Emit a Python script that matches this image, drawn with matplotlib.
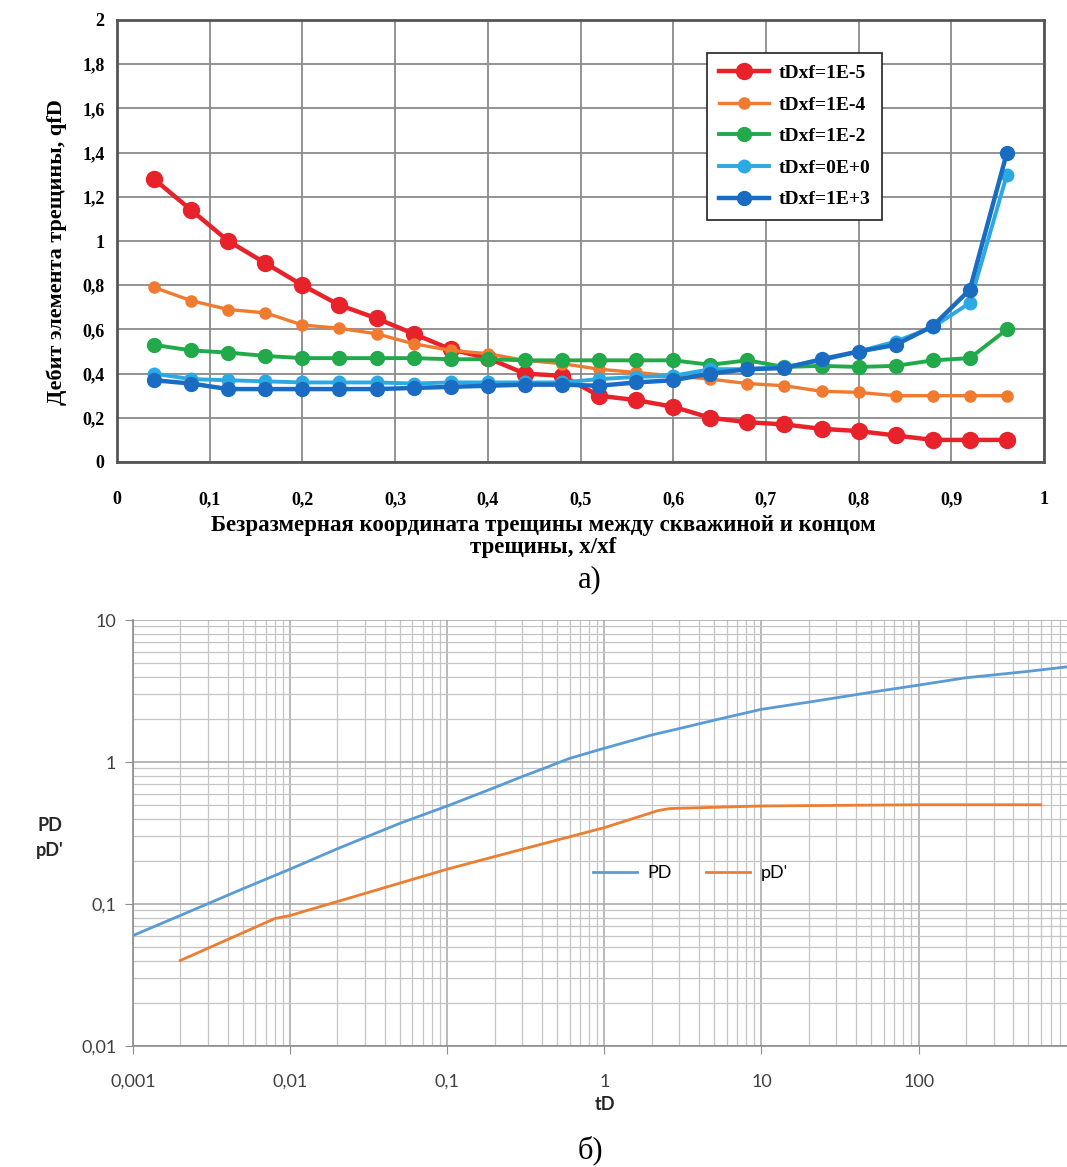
import numpy as np
import matplotlib
matplotlib.use("Agg")
import matplotlib.pyplot as plt
from matplotlib.ticker import FuncFormatter, FixedLocator, LogLocator, NullFormatter

# --- chart a): fracture element rate along the fracture ---
x_pos = [0.04, 0.08, 0.12, 0.16, 0.20, 0.24, 0.28, 0.32, 0.36, 0.40, 0.44, 0.48,
         0.52, 0.56, 0.60, 0.64, 0.68, 0.72, 0.76, 0.80, 0.84, 0.88, 0.92, 0.96]
q_1e5 = [1.28, 1.14, 1.00, 0.90, 0.80, 0.71, 0.65, 0.58, 0.51, 0.47, 0.40, 0.39,
         0.30, 0.28, 0.25, 0.20, 0.18, 0.17, 0.15, 0.14, 0.12, 0.10, 0.10, 0.10]
q_1e4 = [0.79, 0.73, 0.69, 0.675, 0.62, 0.605, 0.58, 0.535, 0.505, 0.49, 0.46, 0.445,
         0.42, 0.405, 0.39, 0.375, 0.355, 0.345, 0.32, 0.315, 0.30, 0.30, 0.30, 0.30]
q_1e2 = [0.53, 0.505, 0.495, 0.48, 0.47, 0.47, 0.47, 0.47, 0.465, 0.465, 0.46, 0.46,
         0.46, 0.46, 0.46, 0.44, 0.46, 0.43, 0.435, 0.43, 0.435, 0.46, 0.47, 0.60]
q_0e0 = [0.40, 0.375, 0.37, 0.365, 0.36, 0.36, 0.36, 0.355, 0.36, 0.36, 0.36, 0.36,
         0.375, 0.385, 0.39, 0.42, 0.42, 0.43, 0.46, 0.50, 0.545, 0.61, 0.72, 1.30]
q_1e3 = [0.37, 0.355, 0.33, 0.33, 0.33, 0.33, 0.33, 0.335, 0.34, 0.345, 0.35, 0.35,
         0.345, 0.36, 0.37, 0.40, 0.42, 0.425, 0.465, 0.50, 0.53, 0.615, 0.78, 1.40]
series_labels = ["tDxf=1E-5", "tDxf=1E-4", "tDxf=1E-2", "tDxf=0E+0", "tDxf=1E+3"]
series_colors = ["#e8222b", "#f07a30", "#22a94a", "#2aa9e2", "#1a6cc2"]

# --- chart б): PD and derivative vs tD ---
td_pd = [0.001, 0.002, 0.005, 0.01, 0.02, 0.05, 0.1, 0.2, 0.3, 0.4, 0.6, 1, 2, 3,
         5, 10, 20, 50, 100, 200, 500, 880]
pd_vals = [0.060, 0.083, 0.128, 0.176, 0.245, 0.37, 0.49, 0.66, 0.79, 0.89, 1.06,
           1.25, 1.55, 1.72, 1.97, 2.35, 2.64, 3.10, 3.48, 3.92, 4.35, 4.68]
td_der = [0.002, 0.008, 0.01, 0.1, 0.3, 1, 2.2, 2.6, 10, 100, 600]
der_vals = [0.040, 0.079, 0.083, 0.176, 0.243, 0.345, 0.455, 0.47, 0.49, 0.50, 0.50]

serif = "Liberation Serif"
sans = "Lato"


def comma(v, pos=None):
    return f"{v:g}".replace(".", ",")


fig = plt.figure(figsize=(10.67, 11.67), dpi=100)

# ---------- top chart ----------
ax = fig.add_axes([117 / 1067, 1 - 462 / 1167, 927 / 1067, 442 / 1167])
sizes = [11.5, 8, 10, 9, 10]
widths = [3.2, 2.4, 2.8, 2.8, 3.2]
for vals, lab, col, ms, lw in zip([q_1e5, q_1e4, q_1e2, q_0e0, q_1e3],
                                  series_labels, series_colors, sizes, widths):
    ax.plot(x_pos, vals, "-o", color=col, lw=lw, ms=ms, label=lab)

ax.set_xlim(0, 1)
ax.set_ylim(0, 2)
ax.set_xticks(np.arange(0, 1.01, 0.1))
ax.set_yticks(np.arange(0, 2.01, 0.2))
ax.xaxis.set_major_formatter(FuncFormatter(comma))
ax.yaxis.set_major_formatter(FuncFormatter(comma))
ax.grid(True, color="#8a8a8a", lw=1.3)
ax.set_axisbelow(True)
for s in ax.spines.values():
    s.set_color("#555555")
    s.set_linewidth(2)
ax.tick_params(axis="both", length=0, labelsize=13)
ax.tick_params(axis="x", pad=21)
ax.tick_params(axis="y", pad=9)
for t in ax.get_xticklabels() + ax.get_yticklabels():
    t.set_fontfamily(serif)
    t.set_fontweight("bold")
ax.set_ylabel("Дебит элемента трещины, qfD", fontfamily=serif, fontweight="bold",
              fontsize=16)
ax.yaxis.set_label_coords(-0.054, 0.475)
ax.set_xlabel("Безразмерная координата трещины между скважиной и концом\nтрещины, x/xf",
              fontfamily=serif, fontweight="bold", fontsize=16.5, linespacing=1.05)
ax.xaxis.set_label_coords(0.46, -0.12)
leg = ax.legend(loc="upper left", bbox_to_anchor=(0.626, 0.948), fancybox=False,
                edgecolor="#222222", framealpha=1, handlelength=2.6,
                prop={"family": serif, "weight": "bold", "size": 14},
                labelspacing=0.72, borderpad=0.6, handletextpad=0.5)
leg.get_frame().set_linewidth(1.2)

fig.text(590 / 1067, 1 - 580 / 1167, "а)", fontfamily=serif, fontsize=22,
         ha="center", va="center")

# ---------- bottom chart ----------
bx = fig.add_axes([133 / 1067, 1 - 1046 / 1167, 1 - 133 / 1067, 426 / 1167])
bx.set_xscale("log")
bx.set_yscale("log")
bx.plot(td_pd, pd_vals, color="#5b9bd5", lw=2, label="PD")
bx.plot(td_der, der_vals, color="#ed7d31", lw=2, label="pD'")
bx.set_xlim(1e-3, 880)
bx.set_ylim(0.01, 10)
bx.xaxis.set_major_locator(FixedLocator([0.001, 0.01, 0.1, 1, 10, 100]))
bx.yaxis.set_major_locator(FixedLocator([0.01, 0.1, 1, 10]))
bx.xaxis.set_minor_locator(LogLocator(base=10, subs=np.arange(2, 10)))
bx.yaxis.set_minor_locator(LogLocator(base=10, subs=np.arange(2, 10)))
bx.xaxis.set_major_formatter(FuncFormatter(comma))
bx.yaxis.set_major_formatter(FuncFormatter(comma))
bx.xaxis.set_minor_formatter(NullFormatter())
bx.yaxis.set_minor_formatter(NullFormatter())
bx.grid(True, which="major", color="#a6a6a6", lw=1.1)
bx.grid(True, which="minor", color="#c4c4c4", lw=0.9)
bx.set_axisbelow(True)
for side in ["top", "right"]:
    bx.spines[side].set_visible(False)
for side in ["left", "bottom"]:
    bx.spines[side].set_color("#8c8c8c")
    bx.spines[side].set_linewidth(1.2)
bx.tick_params(which="major", length=6, color="#8c8c8c", labelsize=13,
               labelcolor="#404040")
bx.tick_params(which="minor", length=0)
bx.tick_params(axis="x", pad=14)
bx.tick_params(axis="y", pad=6)
for t in bx.get_xticklabels() + bx.get_yticklabels():
    t.set_fontfamily(sans)

bx.legend(loc="center", bbox_to_anchor=(0.597, 0.406), ncol=2, frameon=False,
          handlelength=2.4, columnspacing=1.9, handletextpad=0.6,
          prop={"family": sans, "size": 13})

fig.text(50 / 1067, 1 - 838 / 1167, "PD\npD'", fontfamily=sans, fontweight="bold",
         fontsize=13, ha="center", va="center", color="#262626", linespacing=1.6)
fig.text(605 / 1067, 1 - 1105 / 1167, "tD", fontfamily=sans, fontweight="bold",
         fontsize=13, ha="center", va="center", color="#262626")
fig.text(590 / 1067, 1 - 1165 / 1167, "б)", fontfamily=serif, fontsize=22,
         ha="center", va="bottom")

fig.savefig("out.png", dpi=100)
